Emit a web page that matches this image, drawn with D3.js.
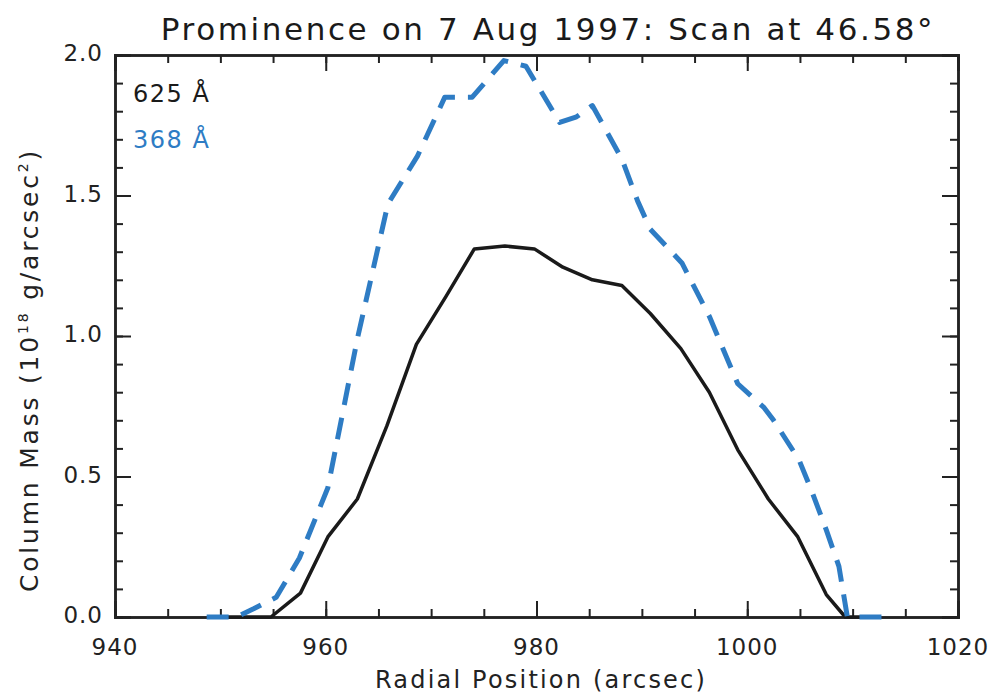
<!DOCTYPE html>
<html>
<head>
<meta charset="utf-8">
<script src="https://cdn.jsdelivr.net/npm/d3@7"></script>
<style>
  body { margin: 0; background: #fff; }
  svg { font-family: "DejaVu Sans", sans-serif; }
</style>
</head>
<body>
<script>
const width = 1000
const height = 698
const margin = ({top: 55, right: 42, bottom: 81, left: 115})

const titleText = "Prominence on 7 Aug 1997: Scan at 46.58°"
const xLabel = "Radial Position (arcsec)"

const xTicks = [940, 960, 980, 1000, 1020]
const yTicks = [0.0, 0.5, 1.0, 1.5, 2.0]

// 625 A (solid black)
const pos625 = [949.0, 951.8, 954.8, 957.6, 960.2, 963.0, 965.8, 968.6, 971.4, 974.1, 977.0, 979.8, 982.5, 985.3, 988.1, 990.8, 993.7, 996.4, 999.1, 1002.0, 1004.8, 1007.5, 1009.3, 1012.0]
const mass625 = [0, 0, 0, 0.085, 0.285, 0.42, 0.68, 0.97, 1.14, 1.31, 1.32, 1.31, 1.245, 1.20, 1.18, 1.08, 0.955, 0.80, 0.595, 0.42, 0.285, 0.08, 0, 0]

// 368 A (dashed blue)
const pos368 = [948.7, 951.5, 953.2, 955.3, 957.5, 960.2, 963.0, 965.9, 968.7, 971.3, 973.9, 976.9, 979.0, 982.2, 983.8, 985.3, 988.1, 989.6, 990.8, 993.8, 996.4, 999.1, 1001.6, 1002.5, 1004.9, 1006.1, 1007.5, 1008.7, 1009.5, 1013.2]
const mass368 = [0, 0, 0.03, 0.07, 0.21, 0.46, 0.99, 1.47, 1.64, 1.85, 1.85, 1.98, 1.96, 1.76, 1.78, 1.82, 1.63, 1.48, 1.38, 1.26, 1.07, 0.83, 0.745, 0.70, 0.56, 0.45, 0.31, 0.18, 0, 0]

const series = [
    {name: "625 Å", color: "#1a1a1a", dash: null, sw: 3.5, xs: pos625, ys: mass625},
    {name: "368 Å", color: "#2e7cc4", dash: "22,13", sw: 5, xs: pos368, ys: mass368}
]

const x = d3.scaleLinear().domain([940, 1020]).range([margin.left, width - margin.right])
const y = d3.scaleLinear().domain([0, 2]).range([height - margin.bottom, margin.top])

const svg = d3.select("body").append("svg")
    .attr("width", width)
    .attr("height", height)

const iw = width - margin.left - margin.right
const ih = height - margin.top - margin.bottom

// axes, ticks pointing inward like IDL plots
const axisStyle = g => g
    .call(g => g.select(".domain").attr("stroke", "#222").attr("stroke-width", 2.5))
    .call(g => g.selectAll(".tick line").attr("stroke", "#222").attr("stroke-width", 2))

const xMinor = d3.range(940, 1021, 5)
const yMinor = d3.range(0, 2.001, 0.1)

svg.append("g")
    .attr("transform", `translate(0,${height - margin.bottom})`)
    .call(d3.axisTop(x).tickValues(xMinor).tickSize(8).tickFormat(""))
    .call(axisStyle)
svg.append("g")
    .attr("transform", `translate(0,${height - margin.bottom})`)
    .call(d3.axisTop(x).tickValues(xTicks).tickSize(16).tickFormat(""))
    .call(axisStyle)
svg.append("g")
    .attr("transform", `translate(0,${margin.top})`)
    .call(d3.axisBottom(x).tickValues(xMinor).tickSize(8).tickFormat(""))
    .call(axisStyle)
svg.append("g")
    .attr("transform", `translate(0,${margin.top})`)
    .call(d3.axisBottom(x).tickValues(xTicks).tickSize(16).tickFormat(""))
    .call(axisStyle)

svg.append("g")
    .attr("transform", `translate(${margin.left},0)`)
    .call(d3.axisRight(y).tickValues(yMinor).tickSize(8).tickFormat(""))
    .call(axisStyle)
svg.append("g")
    .attr("transform", `translate(${margin.left},0)`)
    .call(d3.axisRight(y).tickValues(yTicks).tickSize(16).tickFormat(""))
    .call(axisStyle)
svg.append("g")
    .attr("transform", `translate(${width - margin.right},0)`)
    .call(d3.axisLeft(y).tickValues(yMinor).tickSize(8).tickFormat(""))
    .call(axisStyle)
svg.append("g")
    .attr("transform", `translate(${width - margin.right},0)`)
    .call(d3.axisLeft(y).tickValues(yTicks).tickSize(16).tickFormat(""))
    .call(axisStyle)

// tick labels
svg.append("g")
    .selectAll("text")
    .data(xTicks)
    .join("text")
    .attr("x", d => x(d))
    .attr("y", height - margin.bottom + 38)
    .attr("text-anchor", "middle")
    .attr("font-size", 23)
    .attr("letter-spacing", 1)
    .attr("fill", "#222")
    .text(d => d)

svg.append("g")
    .selectAll("text")
    .data(yTicks)
    .join("text")
    .attr("x", margin.left - 12)
    .attr("y", d => y(d) + 6)
    .attr("text-anchor", "end")
    .attr("font-size", 23)
    .attr("letter-spacing", 1)
    .attr("fill", "#222")
    .text(d => d3.format(".1f")(d))

// titles
svg.append("text")
    .attr("x", 548)
    .attr("y", 40)
    .attr("text-anchor", "middle")
    .attr("font-size", 31)
    .attr("letter-spacing", 2.6)
    .attr("fill", "#1a1a1a")
    .text(titleText)

svg.append("text")
    .attr("x", 541)
    .attr("y", 688)
    .attr("text-anchor", "middle")
    .attr("font-size", 24)
    .attr("letter-spacing", 2.2)
    .attr("fill", "#222")
    .text(xLabel)

const yl = svg.append("text")
    .attr("transform", `translate(38,370) rotate(-90)`)
    .attr("text-anchor", "middle")
    .attr("font-size", 25)
    .attr("letter-spacing", 2.8)
    .attr("fill", "#222")
yl.append("tspan").text("Column Mass (10")
yl.append("tspan").attr("font-size", 14).attr("dy", -10).text("18")
yl.append("tspan").attr("dy", 10).text(" g/arcsec")
yl.append("tspan").attr("font-size", 14).attr("dy", -10).text("2")
yl.append("tspan").attr("dy", 10).text(")")

// lines
const line = d3.line()
    .x(d => x(d[0]))
    .y(d => y(d[1]))

svg.append("g")
    .selectAll("path")
    .data(series)
    .join("path")
    .attr("d", s => line(d3.zip(s.xs, s.ys)))
    .attr("fill", "none")
    .attr("stroke", s => s.color)
    .attr("stroke-width", s => s.sw)
    .attr("stroke-dasharray", s => s.dash)
    .attr("stroke-linejoin", "round")

// legend
svg.append("g")
    .selectAll("text")
    .data(series)
    .join("text")
    .attr("x", margin.left + 18)
    .attr("y", (d, i) => 102 + i * 46)
    .attr("font-size", 24)
    .attr("letter-spacing", 1.5)
    .attr("fill", d => d.color)
    .text(d => d.name)
</script>
</body>
</html>
